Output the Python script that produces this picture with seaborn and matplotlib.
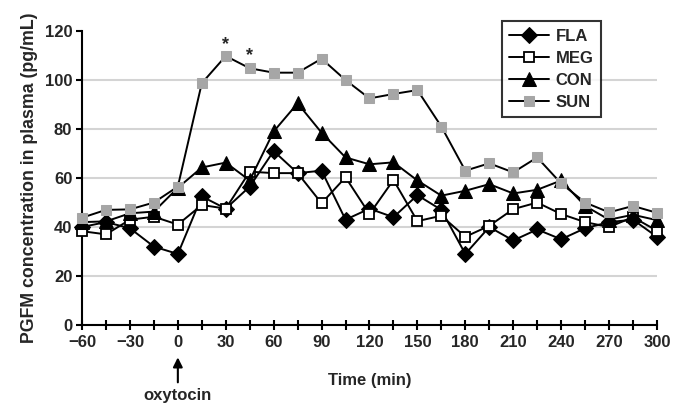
import numpy as np
import pandas as pd
import matplotlib.pyplot as plt
import seaborn as sns

# Time points (min)
time = [-60, -45, -30, -15, 0, 15, 30, 45, 60, 75, 90, 105, 120,
        135, 150, 165, 180, 195, 210, 225, 240, 255, 270, 285, 300]

# PGFM concentration (pg/mL)
fla = [40, 42, 39.5, 32, 29, 52.5, 47.5, 56.5, 71, 62, 63, 43, 47.5,
       44, 53, 47, 29, 40, 34.5, 39, 35, 39.5, 42, 43, 36]
meg = [38.3, 37, 43, 44.2, 41, 49, 47.5, 62.6, 62, 62, 49.7, 60.3, 45.3,
       59.2, 42.4, 44.6, 36, 40.5, 47.3, 50, 45.3, 42, 40, 44, 38.5]
con = [42, 42.3, 45.6, 46.3, 56, 64.3, 66.3, 59, 79, 90.5, 78.5, 68.4, 65.6,
       66.4, 59, 52.8, 54.8, 57.5, 53.7, 55.2, 59, 48.6, 43, 45, 42.8]
sun = [43.8, 47, 47.2, 50, 56.5, 98.7, 109.8, 104.8, 103, 103, 108.7, 100, 92.5,
       94.3, 95.9, 81, 63, 66, 62.3, 68.4, 57.8, 50, 46, 48.6, 45.8]

groups = ["FLA", "MEG", "CON", "SUN"]
xticks = list(range(-60, 301, 30))
xticks_minor = list(range(-60, 301, 15))
yticks = list(range(0, 121, 20))

df = pd.DataFrame({"time": time * 4,
                   "value": fla + meg + con + sun,
                   "group": np.repeat(groups, len(time))})

sns.set_style("white")
plt.rcParams["font.family"] = ["Liberation Sans", "DejaVu Sans"]
plt.rcParams["font.weight"] = "bold"

fig = plt.figure(figsize=(6.74, 4.04), dpi=100)
ax = fig.add_axes([0.1217, 0.1955, 0.853, 0.7277])

styles = {
    "FLA": dict(marker="D", markersize=8.5, markerfacecolor="black", markeredgecolor="black"),
    "MEG": dict(marker="s", markersize=7, markerfacecolor="white", markeredgecolor="black",
                markeredgewidth=1.3),
    "CON": dict(marker="^", markersize=10.5, markerfacecolor="black", markeredgecolor="black"),
    "SUN": dict(marker="s", markersize=7.5, markerfacecolor="#a6a6a6", markeredgecolor="#a6a6a6"),
}

for g in groups:
    sub = df[df["group"] == g]
    sns.lineplot(data=sub, x="time", y="value", ax=ax, color="black", lw=1.4,
                 label=g, clip_on=False, zorder=3, **styles[g])

sns.despine(ax=ax)
for s in ["left", "bottom"]:
    ax.spines[s].set_linewidth(1.5)
    ax.spines[s].set_color("black")

ax.set_xlim(-60, 300)
ax.set_ylim(0, 120)
ax.set_xticks(xticks)
ax.set_yticks(yticks)
ax.tick_params(axis="x", length=0, labelsize=12, pad=7)
ax.tick_params(axis="y", length=0, labelsize=12, pad=7)
for lab in ax.get_xticklabels() + ax.get_yticklabels():
    lab.set_fontweight("bold")

# tick marks crossing the time axis and outward marks on the value axis
ax.plot(xticks_minor, [0] * len(xticks_minor), ls="none", marker="|", markersize=7,
        markeredgewidth=1.5, color="black", clip_on=False, zorder=4)
ax.plot([-60] * len(yticks), yticks, ls="none", marker=0, markersize=4,
        markeredgewidth=1.5, color="black", clip_on=False, zorder=4)

ax.grid(axis="y", color="#d4d4d4", lw=1.5, zorder=1)
ax.yaxis.get_gridlines()[-1].set_visible(False)

ax.set_xlabel("Time (min)", fontsize=12, fontweight="bold", labelpad=17)
ax.set_ylabel("PGFM concentration in plasma (pg/mL)", fontsize=12.8, fontweight="bold",
              labelpad=5)

# significance marks
ax.text(30, 114.5, "*", ha="center", va="center", fontsize=13, fontweight="bold")
ax.text(45, 110, "*", ha="center", va="center", fontsize=13, fontweight="bold")

# oxytocin arrow
ax.annotate("", xy=(0, -0.11), xytext=(0, -0.195),
            xycoords=("data", "axes fraction"), textcoords=("data", "axes fraction"),
            arrowprops=dict(arrowstyle="-|>", color="black", lw=1.5, mutation_scale=14,
                            shrinkA=0, shrinkB=0),
            annotation_clip=False)
ax.text(0, -0.24, "oxytocin", transform=ax.get_xaxis_transform(), ha="center", va="center",
        fontsize=12, fontweight="bold")

handles, labels = ax.get_legend_handles_labels()
leg = ax.legend(handles[:4], labels[:4], loc="upper right", bbox_to_anchor=(0.903, 1.034),
                frameon=True, fancybox=False, fontsize=12, handlelength=2.4,
                labelspacing=0.42, borderpad=0.45, handletextpad=0.4, borderaxespad=0)
leg.get_frame().set_edgecolor("black")
leg.get_frame().set_linewidth(1.5)
for t in leg.get_texts():
    t.set_fontweight("bold")

fig.savefig("out.png", dpi=100)
